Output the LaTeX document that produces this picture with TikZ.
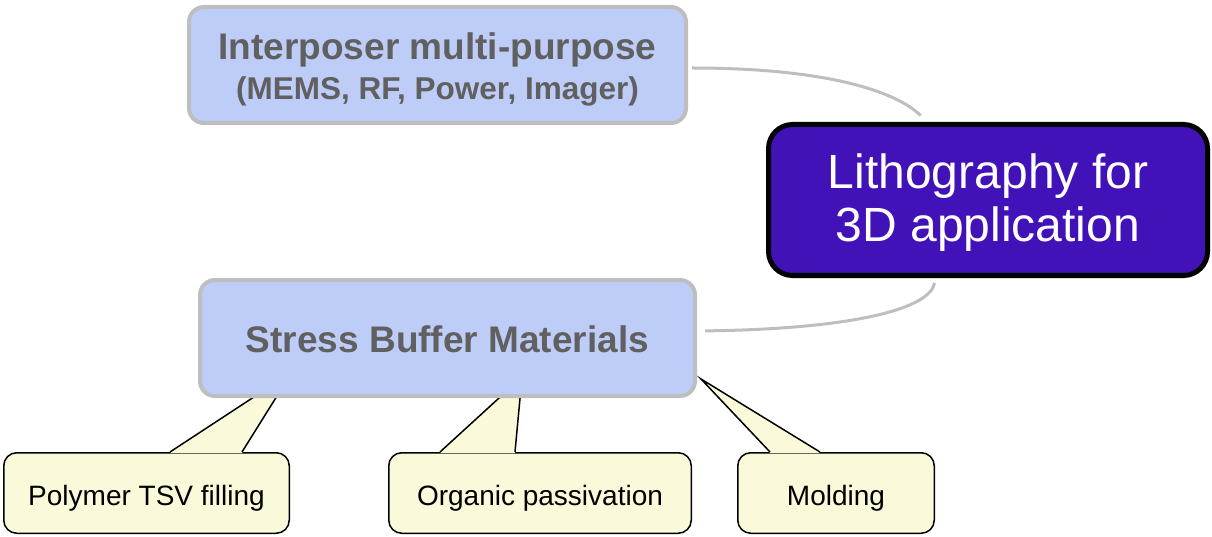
\documentclass[tikz,border=0pt]{standalone}
\usepackage{fontspec}
\setmainfont{Liberation Sans}
\usetikzlibrary{calc}

\definecolor{topicblue}{RGB}{190,205,248}
\definecolor{topicedge}{RGB}{190,190,190}
\definecolor{topictext}{RGB}{96,96,96}
\definecolor{rootviolet}{RGB}{66,18,185}
\definecolor{notefill}{RGB}{250,250,218}

\tikzset{
  topic/.style={draw=topicedge, line width=4pt, fill=topicblue, rounded corners=15pt,
    text=topictext, font=\bfseries\fontsize{37}{40}\selectfont, align=center, inner sep=0pt},
  root/.style={draw=black, line width=5pt, fill=rootviolet, rounded corners=24pt,
    text=white, font=\fontsize{48}{53}\selectfont, align=center, inner sep=0pt},
  note/.style={draw=black, line width=1.5pt, fill=notefill, rounded corners=13pt,
    font=\fontsize{28}{34}\selectfont, inner sep=0pt, text height=28pt, text depth=4pt},
  branch/.style={draw=topicedge, line width=3pt},
  pointer/.style={draw=black, line width=1.5pt},
}

\begin{document}
\begin{tikzpicture}[x=1pt,y=-1pt]
\useasboundingbox (0,0) rectangle (1212,537);

% main topic and the two sub topics
\node[root, minimum width=439pt, minimum height=151pt, text height=94pt, text depth=10pt]
  (litho) at (988,200) {Lithography for\\3D application};
\node[topic, minimum width=497pt, minimum height=116pt, text height=77pt, text depth=7pt]
  (interposer) at (437.5,65)
  {Interposer multi-purpose\\{\fontsize{31.5}{40}\selectfont (MEMS, RF, Power, Imager)}};

% notes hanging below the stress buffer topic
\node[note, minimum width=285.5pt, minimum height=80.5pt] (polymer) at (146.5,493) {Polymer TSV filling};
\node[note, minimum width=302.5pt, minimum height=80.5pt] (organic) at (540,493) {Organic passivation};
\node[note, minimum width=196.5pt, minimum height=80.5pt] (molding) at (836,493) {Molding};

\coordinate (polytip) at (292,372);
\coordinate (orgtip) at (522,377);
\coordinate (moldtip) at (701,379);

\fill[notefill] ($(polymer.north)+(23.5,1)$) -- (polytip) -- ($(polymer.north)+(95.5,1)$) -- cycle;
\draw[pointer] ($(polymer.north)+(23.5,0)$) -- (polytip) -- ($(polymer.north)+(95.5,0)$);
\fill[notefill] ($(organic.north)+(-100,1)$) -- (orgtip) -- ($(organic.north)+(-25,1)$) -- cycle;
\draw[pointer] ($(organic.north)+(-100,0)$) -- (orgtip) -- ($(organic.north)+(-25,0)$);
\fill[notefill] ($(molding.north)+(-66,1)$) -- (moldtip) -- ($(molding.north)+(-16,1)$) -- cycle;
\draw[pointer] ($(molding.north)+(-66,0)$) -- (moldtip) -- ($(molding.north)+(-16,0)$);

\node[topic, minimum width=495pt, minimum height=116pt, text height=32pt, text depth=4pt]
  (stress) at (447.5,338) {Stress Buffer Materials};

% branches to the main topic
\draw[branch, shorten <=4pt, shorten >=9pt] ($(interposer.east)+(0,3)$)
  .. controls +(140,0) and +(-30,-30) .. (litho.128);
\draw[branch, shorten <=8pt, shorten >=5pt] ($(stress.east)+(0,-7)$)
  .. controls +(160,-2) and +(-5,30) .. (litho.236);
\end{tikzpicture}
\end{document}
